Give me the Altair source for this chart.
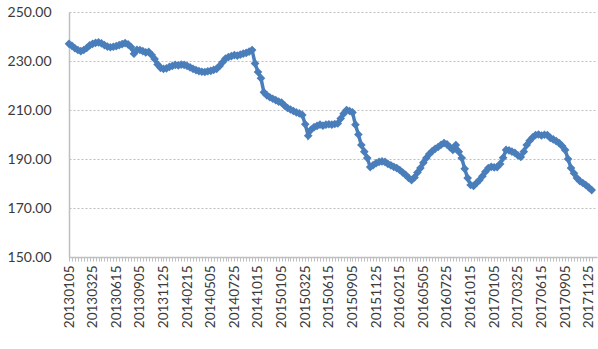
import altair as alt
import pandas as pd

years = [2013, 2014, 2015, 2016, 2017]
months = list(range(1, 13))
days = [5, 15, 25]

values = [
    237.0, 236.2, 235.2, 234.5, 234.0, 234.5, 235.3, 236.4, 237.0, 237.4,
    237.6, 237.2, 236.5, 235.9, 235.6, 235.8, 236.1, 236.5, 236.9, 237.3,
    236.8, 235.7, 233.0, 234.6, 234.5, 234.0, 233.5, 233.7, 232.5, 230.8,
    228.6, 227.2, 226.8, 227.0, 227.6, 228.0, 228.4, 228.2, 228.5, 228.4,
    228.0, 227.4, 226.8, 226.3, 225.9, 225.6, 225.5, 225.8, 226.0, 226.4,
    226.8, 228.0, 229.5, 231.0, 231.6, 232.0, 232.4, 232.2, 232.6, 233.0,
    233.3, 233.8, 234.5, 229.0, 225.5, 223.0, 217.2, 216.0, 215.2, 214.6,
    214.0, 213.4, 213.0, 211.8, 210.8, 210.2, 209.6, 209.0, 208.6, 208.0,
    204.2, 199.5, 202.0, 203.0, 203.5, 204.0, 203.6, 204.0, 204.2, 204.0,
    204.3, 204.5, 206.5, 208.5, 210.0, 209.6, 209.0, 204.0, 200.0, 195.7,
    193.0, 190.4, 186.7, 187.5, 188.3, 188.8, 189.0, 188.8, 188.0, 187.4,
    186.8, 186.3, 185.5, 184.5, 183.5, 182.3, 181.4, 182.5, 184.5, 186.3,
    188.5, 190.4, 192.0, 193.2, 194.2, 194.9, 195.8, 196.5, 196.0, 194.8,
    193.7, 195.7, 193.0, 190.4, 186.0, 182.2, 179.4, 179.0, 180.2, 181.4,
    183.0, 184.8, 186.3, 186.8, 186.6, 186.7, 188.0, 190.5, 193.7, 193.5,
    193.0, 192.5, 191.5, 190.8, 193.0, 195.7, 197.5, 198.8, 199.8, 200.0,
    199.6, 199.9, 199.8, 198.6, 198.0, 197.3, 196.5, 195.3, 193.7, 190.0,
    186.3, 184.2, 182.2, 181.0, 180.2, 179.4, 178.4, 177.3,
]

dates = [f"{y}{m:02d}{d:02d}" for y in years for m in months for d in days][:len(values)]

tick_labels = [
    "20130105", "20130325", "20130615", "20130905", "20131125",
    "20140215", "20140505", "20140725", "20141015",
    "20150105", "20150325", "20150615", "20150905", "20151125",
    "20160215", "20160505", "20160725", "20161015",
    "20170105", "20170325", "20170615", "20170905", "20171125",
]

y_ticks = [150, 170, 190, 210, 230, 250]

df = pd.DataFrame({"date": dates, "price": values})

arr = "[" + ",".join(f"'{t}'" for t in tick_labels) + "]"

color = "#4A7EBB"
font = "Lato"

base = alt.Chart(df).encode(
    x=alt.X(
        "date:O",
        sort=None,
        scale=alt.Scale(type="point", padding=0.9, align=0),
        axis=alt.Axis(
            title=None,
            labelAngle=-90,
            labelExpr=f"indexof({arr}, datum.value) >= 0 ? datum.value : ''",
            labelOverlap=False,
            labelFont=font,
            labelFontSize=13.5,
            labelColor="#3A3A3A",
            labelPadding=4,
            labelBaseline="middle",
            labelAlign="right",
            tickColor="#BFBFBF",
            tickSize=4,
            domainColor="#BFBFBF",
            domainWidth=1.5,
            grid=False,
        ),
    ),
    y=alt.Y(
        "price:Q",
        scale=alt.Scale(domain=[150, 250], nice=False, zero=False),
        axis=alt.Axis(
            title=None,
            values=y_ticks,
            format=".2f",
            labelFont=font,
            labelFontSize=14,
            labelColor="#3A3A3A",
            labelPadding=18,
            ticks=False,
            domainColor="#BFBFBF",
            domainWidth=1.5,
            grid=True,
            gridColor="#BFBFBF",
            gridDash=[2, 2],
            gridWidth=1,
        ),
    ),
)

line = base.mark_line(color=color, strokeWidth=3.5)
points = base.mark_point(shape="diamond", filled=True, color=color, size=75, opacity=1)

chart = (line + points).properties(
    width=528,
    height=245,
    padding={"left": 69, "top": 12, "right": 1, "bottom": 92},
    autosize=alt.AutoSizeParams(type="none"),
    background="white",
).configure_view(stroke=None)

chart.save("out.html", embed_options={"renderer": "svg", "actions": False})
